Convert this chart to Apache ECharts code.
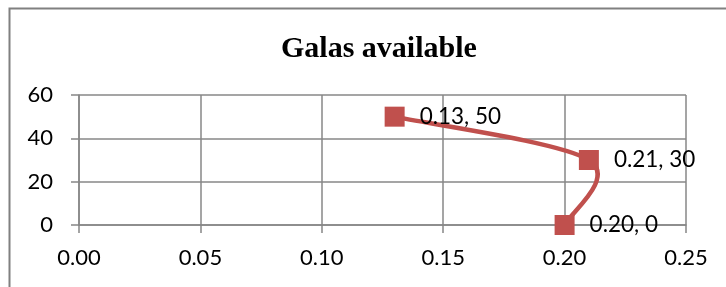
<!DOCTYPE html>
<html>
<head>
<meta charset="utf-8">
<script src="https://cdn.jsdelivr.net/npm/echarts@6/dist/echarts.min.js"></script>
<style>
    html, body { margin: 0; padding: 0; background: #fff; }
    #chart { width: 726px; height: 287px; }
</style>
</head>
<body>
<div id="chart"></div>
<script>
// 数据
var xValues = [0.13, 0.21, 0.20];
var yValues = [50, 30, 0];
var xTicks = [0, 0.05, 0.10, 0.15, 0.20, 0.25];
var yTicks = [0, 20, 40, 60];

var gridColor = '#878787';
var lineColor = '#c0504d';

let chart = echarts.init(document.getElementById('chart'));

let points = xValues.map(function (x, i) { return [x, yValues[i]]; });

/** 平滑曲线（类似Excel的样条） */
function renderCurve(params, api) {
    if (params.dataIndex !== 0) {
        return null;
    }
    let p = points.map(function (d) { return api.coord(d); });
    let path = 'M' + p[0][0] + ' ' + p[0][1];
    for (let i = 0; i < p.length - 1; i++) {
        let p0 = p[i - 1] || p[i];
        let p1 = p[i];
        let p2 = p[i + 1];
        let p3 = p[i + 2] || p[i + 1];
        let c1 = [p1[0] + (p2[0] - p0[0]) / 6, p1[1] + (p2[1] - p0[1]) / 6];
        let c2 = [p2[0] - (p3[0] - p1[0]) / 6, p2[1] - (p3[1] - p1[1]) / 6];
        path += ' C' + c1[0] + ' ' + c1[1] + ' ' + c2[0] + ' ' + c2[1] + ' ' + p2[0] + ' ' + p2[1];
    }
    return {
        type: 'path',
        shape: {pathData: path},
        style: {fill: null, stroke: lineColor, lineWidth: 4.5}
    };
}

chart.setOption({
    animation: false,
    title: {
        text: 'Galas available',
        left: 276,
        top: 29,
        textStyle: {
            fontFamily: 'Liberation Serif',
            fontWeight: 'bold',
            fontSize: 30,
            color: '#000'
        }
    },
    graphic: [{
        type: 'rect',
        shape: {x: 9.5, y: 8.5, width: 740, height: 300},
        style: {fill: 'none', stroke: '#808080', lineWidth: 2}
    }],
    grid: {left: 79, right: 40, top: 95, bottom: 62},
    xAxis: {
        type: 'value',
        min: xTicks[0],
        max: xTicks[xTicks.length - 1],
        interval: 0.05,
        axisLine: {show: true, lineStyle: {color: gridColor, width: 1.5}},
        axisTick: {show: true, length: 8, lineStyle: {color: gridColor, width: 1.5}},
        splitLine: {show: true, lineStyle: {color: gridColor, width: 1.5}},
        axisLabel: {
            margin: 22,
            fontFamily: 'Lato',
            fontSize: 22,
            color: '#000',
            formatter: function (v) { return v.toFixed(2); }
        }
    },
    yAxis: {
        type: 'value',
        min: yTicks[0],
        max: yTicks[yTicks.length - 1],
        interval: 20,
        axisLine: {show: true, lineStyle: {color: gridColor, width: 1.5}},
        axisTick: {show: true, length: 8, lineStyle: {color: gridColor, width: 1.5}},
        splitLine: {show: true, lineStyle: {color: gridColor, width: 1.5}},
        axisLabel: {
            margin: 26,
            fontFamily: 'Lato',
            fontSize: 22,
            color: '#000'
        }
    },
    series: [{
        type: 'custom',
        data: points,
        renderItem: renderCurve,
        z: 2
    }, {
        type: 'scatter',
        data: points,
        symbol: 'rect',
        symbolSize: 20,
        itemStyle: {color: lineColor, opacity: 1},
        z: 3,
        label: {
            show: true,
            position: 'right',
            distance: 15,
            fontFamily: 'Lato',
            fontSize: 22.5,
            color: '#000',
            formatter: function (p) {
                return p.value[0].toFixed(2) + ', ' + p.value[1];
            }
        }
    }]
});
</script>
</body>
</html>
